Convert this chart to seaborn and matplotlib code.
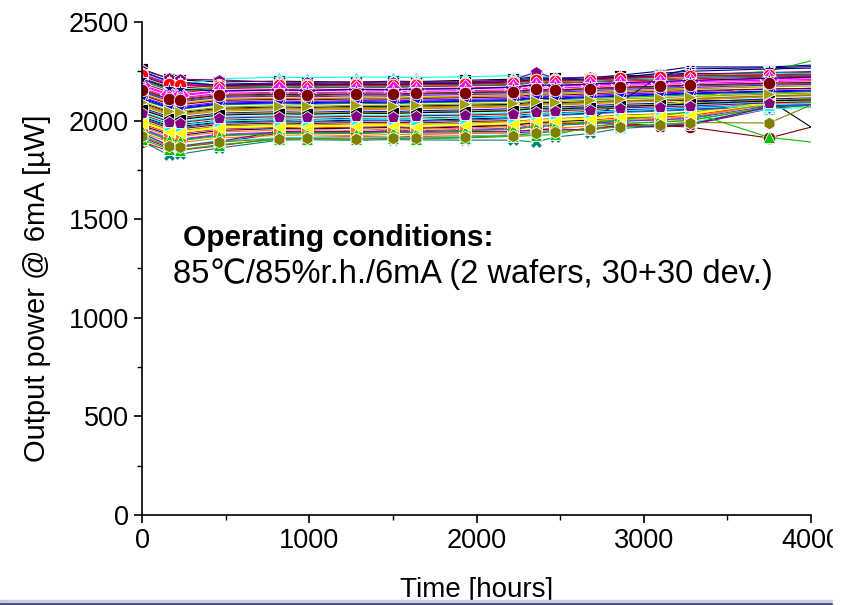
import numpy as np
import pandas as pd
import seaborn as sns
import matplotlib.pyplot as plt
from matplotlib.patches import Rectangle

# measurement times (hours), last point lies beyond the 4000 h axis end
hours = [0, 160, 225, 462, 820, 986, 1277, 1503, 1640, 1930, 2216, 2353, 2472, 2680, 2858, 3096, 3274, 3750, 4500]

# output power @ 6mA (uW) for the 60 devices (30 + 30 from two wafers)
power = [
    [2262, 2212, 2206, 2196, 2200, 2198, 2195, 2200, 2198, 2204, 2210, 2222, 2218, 2212, 2226, 2232, 2240, 2236, 2262],
    [1893, 1846, 1850, 1872, 1912, 1915, 1918, 1916, 1920, 1922, 1925, 1940, 1946, 1960, 1975, 1980, 1985, 2060, 2130],
    [2105, 2062, 2058, 2080, 2086, 2083, 2088, 2085, 2090, 2094, 2098, 2110, 2106, 2112, 2118, 2124, 2130, 2140, 2160],
    [2030, 1985, 1980, 2002, 2010, 2006, 2012, 2015, 2011, 2020, 2025, 2036, 2040, 2046, 2055, 2060, 2066, 2080, 2110],
    [2230, 2184, 2180, 2212, 2220, 2218, 2221, 2220, 2219, 2222, 2228, 2224, 2220, 2212, 2222, 2228, 2232, 2238, 2250],
    [1960, 1912, 1906, 1930, 1942, 1945, 1940, 1950, 1948, 1955, 1962, 1975, 1980, 1988, 2000, 2006, 2012, 2090, 2160],
    [2140, 2096, 2090, 2112, 2118, 2115, 2120, 2122, 2118, 2125, 2130, 2142, 2138, 2146, 2152, 2160, 2164, 2176, 2190],
    [2075, 2030, 2026, 2048, 2055, 2052, 2058, 2054, 2060, 2064, 2070, 2082, 2078, 2086, 2092, 2098, 2104, 2120, 2140],
    [2225, 2180, 2175, 2185, 2190, 2188, 2192, 2190, 2193, 2196, 2205, 2215, 2212, 2218, 2230, 2251, 2272, 2272, 2300],
    [1915, 1862, 1866, 1888, 1937, 1938, 1936, 1940, 1938, 1937, 1938, 1944, 1950, 1955, 1975, 1967, 1978, 2060, 2120],
    [2010, 1962, 1958, 1980, 1988, 1985, 1990, 1992, 1988, 1995, 2000, 1990, 1985, 1990, 1985, 1975, 1967, 1912, 2077],
    [2160, 2115, 2110, 2132, 2140, 2136, 2142, 2140, 2138, 2145, 2150, 2160, 2156, 2164, 2170, 2176, 2180, 2190, 2200],
    [1895, 1825, 1830, 1861, 1901, 1903, 1900, 1904, 1902, 1901, 1901, 1891, 1917, 1935, 1960, 1972, 1985, 2065, 2120],
    [2245, 2198, 2192, 2180, 2186, 2183, 2188, 2185, 2190, 2192, 2200, 2212, 2208, 2205, 2215, 2222, 2228, 2230, 2240],
    [1940, 1892, 1888, 1912, 1925, 1928, 1924, 1930, 1928, 1935, 1942, 1955, 1962, 1972, 1985, 1995, 2002, 2070, 2100],
    [2120, 2076, 2070, 2094, 2100, 2097, 2102, 2100, 2104, 2108, 2112, 2125, 2120, 2128, 2135, 2140, 2146, 2160, 2170],
    [2090, 2045, 2040, 2062, 2070, 2066, 2072, 2070, 2074, 2078, 2082, 2094, 2090, 2096, 2100, 2104, 2100, 2104, 1693],
    [1985, 1938, 1934, 1958, 1966, 1963, 1968, 1970, 1966, 1972, 1980, 1992, 1996, 2004, 2014, 2020, 2026, 2085, 2130],
    [2205, 2160, 2155, 2170, 2176, 2173, 2178, 2175, 2180, 2184, 2190, 2202, 2198, 2205, 2212, 2220, 2226, 2250, 2410],
    [2065, 2020, 2015, 2038, 2045, 2042, 2048, 2045, 2050, 2054, 2060, 2072, 2068, 2076, 2082, 2088, 2094, 2110, 2125],
    [1925, 1876, 1872, 1898, 1912, 1915, 1910, 1916, 1914, 1920, 1928, 1940, 1946, 1958, 1970, 1982, 1990, 2060, 2080],
    [2175, 2130, 2125, 2148, 2154, 2150, 2156, 2154, 2158, 2162, 2166, 2178, 2174, 2180, 2186, 2192, 2198, 2205, 2215],
    [2035, 1990, 1985, 2008, 2015, 2012, 2018, 2016, 2020, 2024, 2030, 2042, 2046, 2052, 2060, 2080, 2098, 2192, 2210],
    [2135, 2090, 2085, 2108, 2114, 2110, 2116, 2114, 2118, 2122, 2128, 2140, 2136, 2144, 2150, 2156, 2160, 2172, 2182],
    [1975, 1930, 1925, 1950, 1960, 1958, 1962, 1965, 1960, 1968, 1975, 1990, 1995, 2003, 2094, 2225, 2262, 2268, 2285],
    [2255, 2216, 2210, 2206, 2195, 2194, 2196, 2195, 2197, 2196, 2205, 2246, 2215, 2221, 2218, 2228, 2236, 2244, 2258],
    [2215, 2170, 2165, 2178, 2184, 2180, 2186, 2183, 2188, 2190, 2196, 2208, 2204, 2210, 2218, 2224, 2230, 2226, 2234],
    [2000, 1952, 1948, 1972, 1980, 1977, 1982, 1984, 1980, 1986, 1994, 2006, 2010, 2018, 2028, 2034, 2040, 2100, 2140],
    [2150, 2105, 2100, 2122, 2130, 2126, 2132, 2130, 2134, 2138, 2142, 2154, 2150, 2158, 2164, 2170, 2175, 2185, 2195],
    [1955, 1906, 1902, 1926, 1938, 1941, 1936, 1945, 1942, 1950, 1958, 1970, 1976, 1985, 1996, 2004, 2010, 2075, 2105],
    [2080, 2035, 2030, 2054, 2060, 2057, 2062, 2060, 2064, 2068, 2074, 2086, 2082, 2090, 2096, 2102, 2108, 2124, 2150],
    [2235, 2190, 2185, 2175, 2180, 2177, 2182, 2180, 2184, 2186, 2194, 2206, 2202, 2208, 2215, 2222, 2228, 2222, 2230],
    [2020, 1974, 1970, 1992, 2000, 1996, 2002, 2005, 2000, 2008, 2015, 2026, 2030, 2038, 2046, 2052, 2058, 2076, 2090],
    [2190, 2145, 2140, 2162, 2168, 2165, 2170, 2168, 2172, 2176, 2180, 2192, 2188, 2195, 2200, 2206, 2212, 2220, 2235],
    [1905, 1855, 1852, 1878, 1905, 1908, 1906, 1910, 1908, 1912, 1920, 1925, 1930, 1967, 1985, 1992, 2000, 2068, 2090],
    [2115, 2070, 2065, 2088, 2094, 2091, 2096, 2094, 2098, 2102, 2106, 2118, 2114, 2122, 2128, 2134, 2140, 2150, 2165],
    [2045, 2000, 1995, 2018, 2025, 2022, 2028, 2026, 2030, 2034, 2040, 2052, 2056, 2062, 2070, 2076, 2080, 2096, 2110],
    [2165, 2120, 2115, 2138, 2144, 2140, 2146, 2144, 2148, 2152, 2156, 2168, 2164, 2172, 2178, 2184, 2188, 2198, 2210],
    [1995, 1948, 1944, 1968, 1976, 1973, 1978, 1980, 1976, 1982, 1990, 2002, 2006, 2014, 2024, 2030, 2036, 2095, 2130],
    [2060, 2015, 2010, 2034, 2040, 2037, 2042, 2040, 2044, 2048, 2054, 2066, 2062, 2070, 2076, 2082, 2088, 2104, 2120],
    [2250, 2200, 2195, 2180, 2182, 2179, 2184, 2182, 2186, 2188, 2196, 2208, 2204, 2210, 2218, 2240, 2250, 2262, 2275],
    [1935, 1875, 1870, 1895, 1945, 1946, 1944, 1948, 1946, 1945, 1946, 1952, 1958, 1952, 1978, 1970, 1980, 2070, 2110],
    [2130, 2085, 2080, 2102, 2108, 2105, 2110, 2108, 2112, 2116, 2120, 2132, 2128, 2136, 2142, 2148, 2152, 2160, 2170],
    [2085, 2040, 2035, 2058, 2065, 2062, 2068, 2066, 2070, 2074, 2078, 2090, 2086, 2094, 2100, 2106, 2112, 2126, 2135],
    [2200, 2155, 2150, 2165, 2170, 2167, 2172, 2170, 2174, 2178, 2184, 2196, 2192, 2198, 2206, 2212, 2218, 2225, 2240],
    [2015, 1968, 1964, 1988, 1995, 1992, 1998, 2000, 1996, 2002, 2010, 2022, 2026, 2034, 2042, 2048, 2054, 2072, 2090],
    [1970, 1922, 1918, 1942, 1952, 1955, 1950, 1958, 1956, 1962, 1970, 1982, 1988, 1996, 2006, 2012, 2018, 2082, 2110],
    [2145, 2100, 2095, 2118, 2124, 2120, 2126, 2124, 2128, 2132, 2136, 2148, 2144, 2152, 2158, 2164, 2168, 2180, 2190],
    [2055, 2010, 2005, 2028, 2035, 2032, 2038, 2036, 2040, 2044, 2050, 2062, 2058, 2066, 2072, 2078, 2084, 2100, 2115],
    [2230, 2185, 2180, 2172, 2178, 2175, 2180, 2178, 2182, 2184, 2192, 2204, 2200, 2206, 2214, 2220, 2226, 2232, 2245],
    [1950, 1902, 1898, 1922, 1935, 1938, 1934, 1942, 1940, 1948, 1956, 1970, 1978, 1990, 2005, 2025, 2044, 1915, 1843],
    [2110, 2065, 2060, 2084, 2090, 2087, 2092, 2090, 2094, 2098, 2102, 2114, 2110, 2118, 2124, 2130, 2136, 2146, 2160],
    [2025, 1980, 1975, 1998, 2005, 2002, 2008, 2006, 2010, 2014, 2020, 2032, 2036, 2042, 2050, 2056, 2062, 2080, 2100],
    [2180, 2135, 2130, 2152, 2158, 2155, 2160, 2158, 2162, 2166, 2170, 2182, 2178, 2186, 2192, 2198, 2202, 2212, 2225],
    [1990, 1942, 1938, 1962, 1970, 1967, 1972, 1975, 1970, 1976, 1984, 1996, 2000, 2008, 2018, 2024, 2030, 2088, 2110],
    [2095, 2050, 2045, 2068, 2075, 2072, 2078, 2076, 2080, 2084, 2088, 2100, 2096, 2104, 2110, 2116, 2122, 2134, 2150],
    [2210, 2165, 2160, 2150, 2156, 2153, 2158, 2156, 2160, 2162, 2170, 2182, 2178, 2186, 2192, 2198, 2204, 2215, 2230],
    [2040, 1995, 1990, 2012, 2020, 2017, 2022, 2020, 2024, 2028, 2034, 2046, 2050, 2056, 2064, 2070, 2074, 2090, 2105],
    [2155, 2110, 2105, 2128, 2134, 2130, 2136, 2134, 2138, 2142, 2146, 2158, 2154, 2162, 2168, 2174, 2180, 2190, 2200],
    [1920, 1870, 1866, 1892, 1908, 1911, 1906, 1912, 1910, 1916, 1924, 1936, 1944, 1955, 1968, 1980, 1990, 1988, 2261],
]

# Origin-like colour / symbol cycle
origin_colors = ["#000000", "#FF0000", "#00C000", "#0000FF", "#00FFFF", "#FF00FF", "#FFFF00", "#A0A000",
                 "#000080", "#800080", "#800000", "#808000", "#008080", "#3050D0", "#FF8000", "#8000FF"]
origin_marks = ["s", "o", "^", "v", "^", "D", "<", ">", "*", "p", "o", "h", "X", "d", "s", "P"]

rows = []
for i, vals in enumerate(power):
    for t, v in zip(hours, vals):
        rows.append({"device": f"D{i + 1}", "time": t, "power": v})
df = pd.DataFrame(rows)
devices = [f"D{i + 1}" for i in range(len(power))]
pal = {d: origin_colors[i % 16] for i, d in enumerate(devices)}
mks = {d: origin_marks[i % 16] for i, d in enumerate(devices)}

sns.set_style("white")
plt.rcParams["font.family"] = ["Liberation Sans", "DejaVu Sans"]
plt.rcParams["text.color"] = "black"
plt.rcParams["axes.labelcolor"] = "black"
plt.rcParams["xtick.color"] = "black"
plt.rcParams["ytick.color"] = "black"

fig = plt.figure(figsize=(8.54, 6.05), dpi=100)
ax = fig.add_axes([0.1663, 0.14876, 0.7834, 0.81488])

sns.lineplot(data=df, x="time", y="power", hue="device", style="device",
             hue_order=devices, style_order=devices, palette=pal, markers=mks,
             dashes=False, legend=False, linewidth=0.8, markersize=9,
             markeredgewidth=0.6, markeredgecolor="white", ax=ax)

ax.set_xlim(0, 4000)
ax.set_ylim(0, 2500)
ax.set_xticks([0, 1000, 2000, 3000, 4000])
ax.set_xticks([500, 1500, 2500, 3500], minor=True)
ax.set_yticks([0, 500, 1000, 1500, 2000, 2500])
ax.set_yticks([250, 750, 1250, 1750, 2250], minor=True)
ax.tick_params(which="major", direction="out", length=6, width=1.2, labelsize=19.5,
               bottom=True, left=True, colors="black")
ax.tick_params(which="minor", direction="out", length=3.5, width=1.0, bottom=True, left=True)
sns.despine(ax=ax)
for s in ["left", "bottom"]:
    ax.spines[s].set_linewidth(1.2)
    ax.spines[s].set_color("black")

ax.set_xlabel("Time [hours]", fontsize=20, va="center")
ax.set_ylabel("Output power @ 6mA [\u00b5W]", fontsize=21, va="center")
ax.xaxis.set_label_coords(0.5, -0.152)
ax.yaxis.set_label_coords(-0.157, 0.46)

ax.text(0.061, 0.562, "Operating conditions:", transform=ax.transAxes, fontsize=21.5,
        fontweight="bold", va="center", ha="left")
ax.text(0.046, 0.489, "85\u2103/85%r.h./6mA (2 wafers, 30+30 dev.)", transform=ax.transAxes,
        fontsize=23.5, va="center", ha="left")

# slide footer bar and cropped right edge
fig.patches.append(Rectangle((0, 0), 833 / 854, 3 / 605, transform=fig.transFigure,
                             color="#3a4470", zorder=10))
fig.patches.append(Rectangle((0, 3 / 605), 833 / 854, 2 / 605, transform=fig.transFigure,
                             color="#c8cce8", zorder=10))
fig.patches.append(Rectangle((833 / 854, 0), 21 / 854, 1, transform=fig.transFigure,
                             color="white", zorder=10))

fig.savefig("out.png", dpi=100)
